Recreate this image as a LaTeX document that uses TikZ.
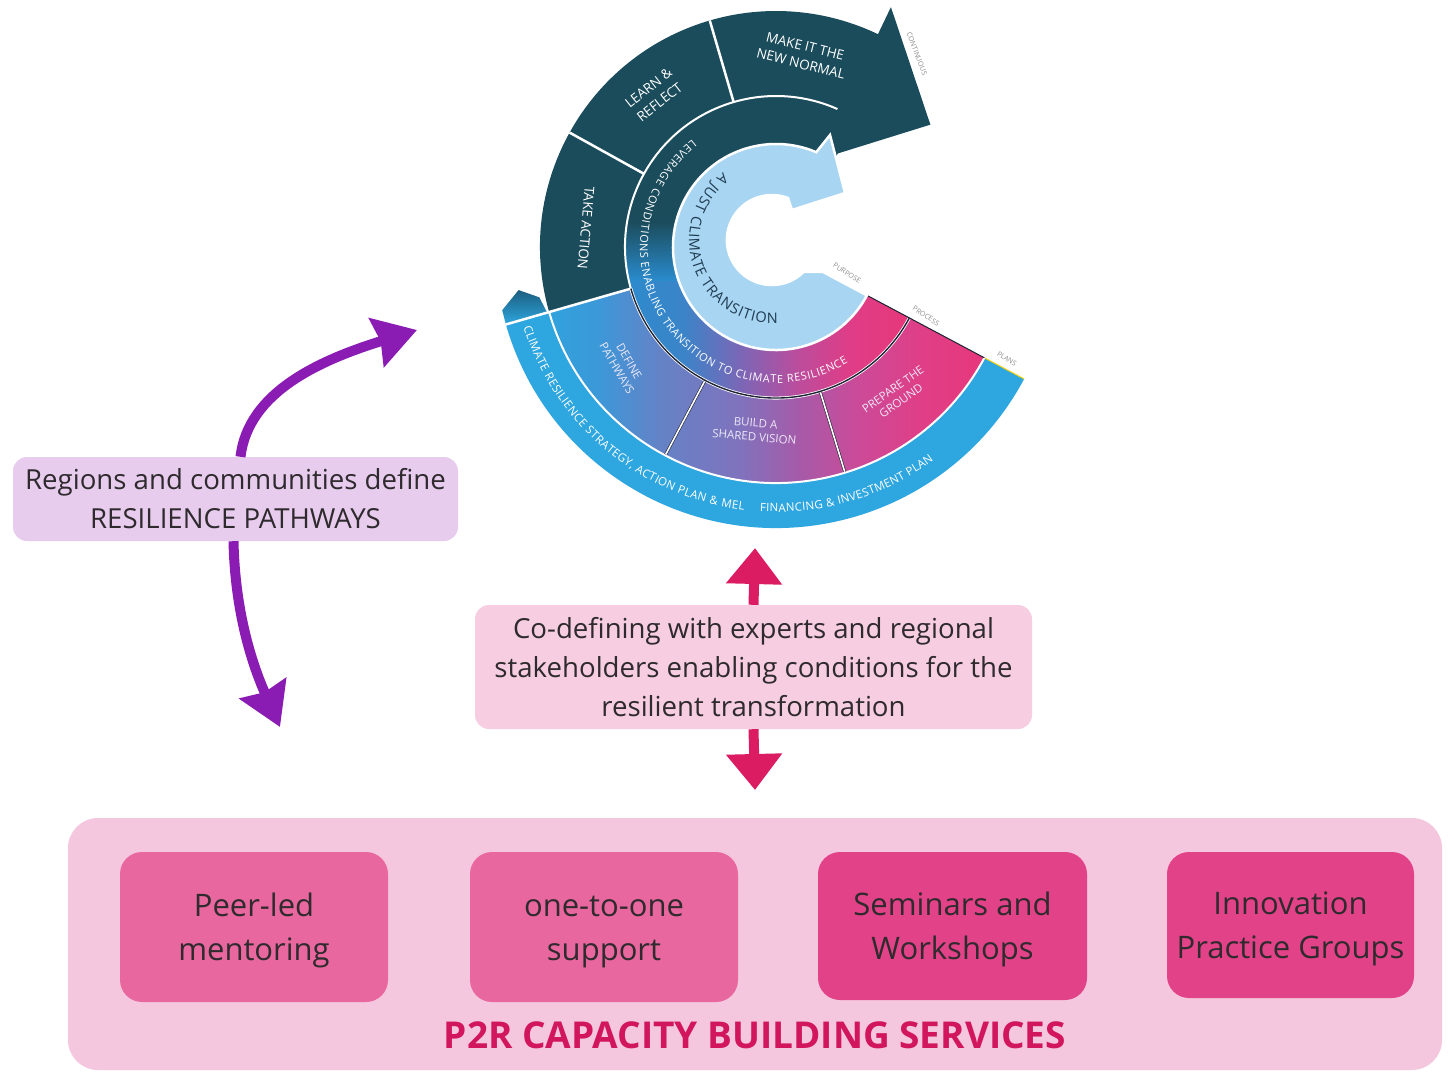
\documentclass[tikz,border=0pt]{standalone}
\usepackage{fontspec}
\setmainfont{Open Sans}
\usetikzlibrary{arrows.meta,decorations.text}
\definecolor{darkteal}{HTML}{1B4C5C}
\definecolor{planblue}{HTML}{2EA6DF}
\definecolor{capblue}{HTML}{1C5F80}
\definecolor{lightblue}{HTML}{A8D5F1}
\definecolor{navytext}{HTML}{1F3B52}
\definecolor{proctext}{HTML}{EEE8F8}
\definecolor{tinygray}{HTML}{8D8D8D}
\definecolor{sepdark}{HTML}{1E2433}
\definecolor{pg0}{HTML}{2EA4DE}
\definecolor{pg1}{HTML}{3C98D8}
\definecolor{pg2}{HTML}{6582C6}
\definecolor{pg3}{HTML}{7F73BD}
\definecolor{pg4}{HTML}{A75AA8}
\definecolor{pg5}{HTML}{CC4A98}
\definecolor{pg6}{HTML}{DF3F87}
\definecolor{pg7}{HTML}{E8377A}
\definecolor{lc0}{HTML}{2A8BCD}
\definecolor{lc1}{HTML}{3C84C8}
\definecolor{lc2}{HTML}{7C66B6}
\definecolor{lc3}{HTML}{B84E9E}
\definecolor{lc4}{HTML}{DE3E88}
\definecolor{lc5}{HTML}{E8377A}
\definecolor{lavbox}{HTML}{E7CCEE}
\definecolor{purplearrow}{HTML}{8B1CB3}
\definecolor{pinkbox}{HTML}{F6CDE1}
\definecolor{pinkarrow}{HTML}{DB1C63}
\definecolor{servbg}{HTML}{F5C7DE}
\definecolor{servA}{HTML}{E8679E}
\definecolor{servB}{HTML}{E24287}
\definecolor{titlepink}{HTML}{D1165E}
\definecolor{textdark}{HTML}{2E2A2D}
% the path's bounding box maps onto 25bp..75bp of a shading
\pgfdeclarehorizontalshading{procshade}{100bp}{color(0bp)=(pg0); color(25bp)=(pg0); color(31.5bp)=(pg1); color(38.5bp)=(pg2); color(47bp)=(pg3); color(54bp)=(pg4); color(60.5bp)=(pg5); color(67bp)=(pg6); color(75bp)=(pg7); color(100bp)=(pg7)}
\pgfdeclarehorizontalshading{levshade}{100bp}{color(0bp)=(lc0); color(25bp)=(lc0); color(36bp)=(lc1); color(46bp)=(lc2); color(55bp)=(lc3); color(64bp)=(lc4); color(75bp)=(lc5); color(100bp)=(lc5)}
\begin{document}
\begin{tikzpicture}[x=1pt,y=1pt,
  annsec/.style n args={4}{insert path={(#1:#3) -- (#1:#4) arc[start angle=#1, end angle=#2, radius=#4pt] -- (#2:#3) arc[start angle=#2, end angle=#1, radius=#3pt] -- cycle}},
  sepline/.style={draw=white, line width=2.5pt},
  seglabel/.style={align=center, text=white, inner sep=0pt, font=\fontsize{13.5}{18}\selectfont},
  proclabel/.style={align=center, text=proctext, inner sep=0pt, font=\fontsize{11.5}{14}\selectfont},
  tinylabel/.style={text=tinygray, inner sep=0pt, font=\fontsize{7}{8}\selectfont},
  curvetext/.style={decorate, decoration={text along path, text align={fit to path}, text color=#1}},
  textbox/.style={rounded corners=14pt, align=center, text=textdark, inner sep=0pt, font=\fontsize{27.6}{39}\selectfont},
  servbox/.style={rounded corners=22pt, align=center, text=textdark, inner sep=0pt, font=\fontsize{31}{44}\selectfont},
  purplearr/.style={draw=purplearrow, line width=10pt, -{Stealth[length=42pt, width=50pt, inset=4pt]}},
  pinkarr/.style={draw=pinkarrow, line width=10pt, -{Triangle[length=36pt, width=54pt]}}
]
\useasboundingbox (0,0) rectangle (1450,-1071);
\fill[white] (0,0) rectangle (1450,-1071);

% ---------------- wheel ----------------
\begin{scope}[shift={(776,-247)}]
  % plans ring
  \fill[planblue, annsec={196}{332}{236}{281}];
  \shade[top color=capblue, bottom color=planblue] (196:281) -- (193:281) -- (189.5:261) -- (192:242) -- (196:238) -- cycle;
  % process ring
  \begin{scope}
    \clip[annsec={196}{332}{151}{236}];
    \shade[shading=procshade] (-236,-240) rectangle (214,0);
  \end{scope}
  % continuous dark ring with arrow
  \fill[darkteal] (196:151) -- (196:236) arc[start angle=196, end angle=64.4, radius=236pt]
    -- (64.4:266) -- (38.4:197) -- (56.6:112) -- (56.6:103)
    arc[start angle=56.6, end angle=196, radius=103pt] -- cycle;
  % leverage ring
  \begin{scope}
    \clip (332:103) -- (332:151) arc[start angle=332, end angle=56.6, radius=151pt]
      -- (56.6:103) arc[start angle=56.6, end angle=332, radius=103pt] -- cycle;
    \fill[darkteal] (-160,-160) rectangle (160,160);
    \shade[shading=levshade] (-156,-163) rectangle (134,-33);
    \shade[top color=darkteal, bottom color=lc0] (-166,25) rectangle (-56,-33);
  \end{scope}
  % separators
  \draw[sepline] (196:151) -- (196:281);
  \draw[sepline] (151:151) -- (151:236);
  \draw[sepline] (106.3:151) -- (106.3:236);
  \draw[draw=white, line width=2pt] (196:151) arc[start angle=196, end angle=66, radius=151pt];
  \draw[draw=white, line width=2pt] (196:236) arc[start angle=196, end angle=332, radius=236pt];
  \draw[draw=white, double=sepdark, double distance=1.4pt, line width=0.8pt] (196:151) arc[start angle=196, end angle=332, radius=151pt];
  \draw[draw=sepdark, double=white, double distance=1.6pt, line width=0.6pt] (242:152) -- (242:235);
  \draw[draw=sepdark, double=white, double distance=1.6pt, line width=0.6pt] (287:152) -- (287:235);
  \draw[sepdark, line width=1pt] (332:103) -- (332:236);
  \draw[yellow!70!orange, line width=1pt] (332:237) -- (332:281);
  % purpose: light blue C with arrow
  \fill[lightblue, draw=white, line width=2.5pt] (332:53) -- (332:103)
    arc[start angle=332, end angle=67, radius=103pt]
    -- (54,112) -- (69,54) -- (16,37) -- (12,49)
    arc[start angle=69, end angle=315, radius=45pt] -- cycle;
  % curved texts
  \path[curvetext=white, decoration={text={|\fontsize{11}{11}\selectfont|LEVERAGE CONDITIONS ENABLING TRANSITION TO CLIMATE RESILIENCE}}]
    (128:136) arc[start angle=128, end angle=302, radius=136pt];
  \path[curvetext=white, decoration={text={|\fontsize{11.5}{11.5}\selectfont|CLIMATE RESILIENCE STRATEGY, ACTION PLAN {\&} MEL}}]
    (197.6:265) arc[start angle=197.6, end angle=263, radius=265pt];
  \path[curvetext=white, decoration={text={|\fontsize{11.5}{11.5}\selectfont|FINANCING {\&} INVESTMENT PLAN}}]
    (266.5:265) arc[start angle=266.5, end angle=306.5, radius=265pt];
  \begin{scope}[shift={(-4,7)}]
    \path[curvetext=navytext, decoration={text={|\fontsize{14.5}{14.5}\selectfont|A JUST CLIMATE TRANSITION}}]
      (126:83) arc[start angle=126, end angle=274, radius=83pt];
  \end{scope}
\end{scope}

% straight wheel labels
\node[seglabel, rotate=-14] (lblmake) at (803,-55) {MAKE IT THE\\NEW NORMAL};
\node[seglabel, rotate=38] (lbllearn) at (654,-95) {LEARN \&\\REFLECT};
\node[seglabel, rotate=-95] (lbltake) at (586,-228) {TAKE ACTION};
\node[proclabel, rotate=-60] (lbldefine) at (623,-365) {DEFINE\\PATHWAYS};
\node[proclabel, rotate=-5] (lblbuild) at (755,-430) {BUILD A\\SHARED VISION};
\node[proclabel, rotate=35] (lblprepare) at (897,-395) {PREPARE THE\\GROUND};
\node[tinylabel, rotate=-69] (lblcont) at (917,-54) {CONTINUOUS};
\node[tinylabel, rotate=-32] (lblpurpose) at (847,-273) {PURPOSE};
\node[tinylabel, rotate=-33] (lblprocess) at (926,-316) {PROCESS};
\node[tinylabel, rotate=-33] (lblplans) at (1007,-359) {PLANS};

% ---------------- lower part ----------------
\coordinate (wheelL) at (417,-330);
\coordinate (servL) at (280,-727);
\coordinate (wheelB) at (755,-548);
\coordinate (servT) at (755,-790);

\node[textbox, fill=lavbox, minimum width=445pt, minimum height=84pt] (regions) at (235.5,-499)
  {Regions and communities define\\RESILIENCE PATHWAYS};
\node[textbox, fill=pinkbox, minimum width=557pt, minimum height=124pt] (codef) at (753.5,-667)
  {Co-defining with experts and regional\\stakeholders enabling conditions for the\\resilient transformation};

\draw[purplearr] ([xshift=5pt]regions.north) .. controls (248,-392) and (320,-360) .. (wheelL);
\draw[purplearr] ([xshift=-2pt]regions.south) .. controls (235,-612) and (252,-664) .. (servL);
\draw[pinkarr] (codef.north) -- (wheelB);
\draw[pinkarr] (codef.south) -- (servT);

\node[fill=servbg, rounded corners=30pt, minimum width=1374pt, minimum height=252pt, inner sep=0pt] (services) at (755,-944) {};
\node[servbox, fill=servA, minimum width=268pt, minimum height=150pt] (peer) at (254,-927) {\strut Peer-led\\mentoring};
\node[servbox, fill=servA, minimum width=268pt, minimum height=150pt] (onetoone) at (604,-927) {\strut one-to-one\\support};
\node[servbox, fill=servB, minimum width=269pt, minimum height=148pt] (seminars) at (952.5,-926) {\strut Seminars and\\Workshops};
\node[servbox, fill=servB, minimum width=247pt, minimum height=146pt] (innov) at (1290.5,-925) {\strut Innovation\\Practice Groups};
\node[text=titlepink, inner sep=0pt, font=\fontsize{37}{40}\selectfont\bfseries] (title) at (755,-1035) {P2R CAPACITY BUILDING SERVICES};
\end{tikzpicture}
\end{document}
